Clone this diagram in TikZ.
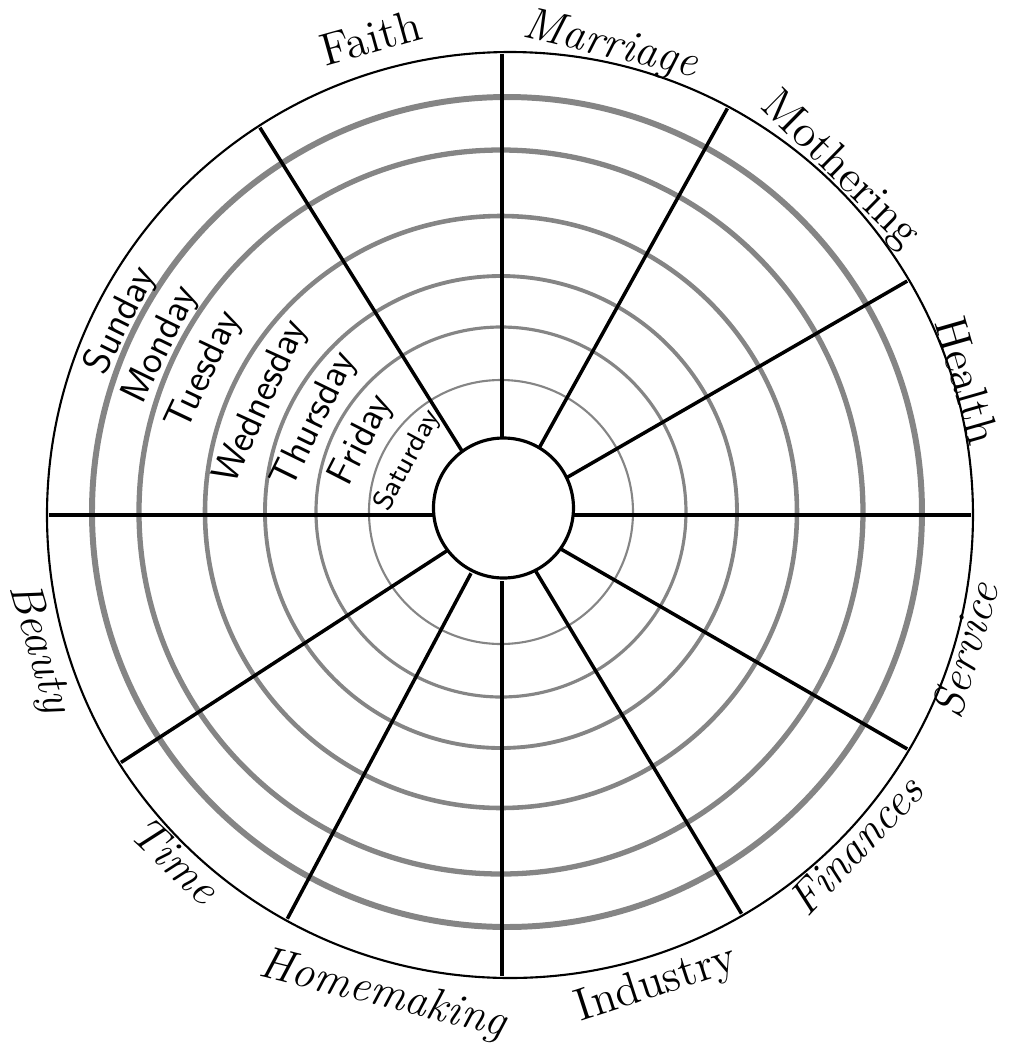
\documentclass[tikz,border=0pt]{standalone}
\usepackage{fontspec}
\usepackage{tikz}
\usetikzlibrary{calc}

\tikzset{
  ring/.style={draw=black!48, line width=#1},
  spoke/.style={line width=1pt},
  sector/.style={font=\fontsize{13}{15}\selectfont, inner sep=0pt},
  sectorit/.style={font=\fontsize{13}{15}\selectfont\itshape, inner sep=0pt},
  dayname/.style={font=\sffamily\fontsize{11}{13}\selectfont, inner sep=0pt},
}

\begin{document}
\begin{tikzpicture}[x=0.01cm, y=0.01cm, line join=round]
  \useasboundingbox (-503,-538) rectangle (507,512);
  \coordinate (O) at (0,0);
  \coordinate (SC) at (-1,-3);
  \coordinate (RC) at (-2,0);
  \coordinate (R6) at (4,0);
  \coordinate (OC) at (7,-3);
  \coordinate (IC) at (0.5,4);
  % gray day rings
  \foreach \r/\w in {132/0.6pt,185/0.9pt,236/1.1pt,296/1.3pt,362/1.5pt}
    \draw[ring=\w] (RC) circle (\r);
  \draw[ring=1.7pt] (R6) circle (415);
  % spokes, all from one hub
  \foreach \a in {122,90,61,30,0,-30,-59,-90,-118,-147,180}{
    \pgfmathsetmacro{\rend}{461+8*cos(\a)}
    \draw[spoke] ($(SC)+(\a:66)$) -- ($(SC)+(\a:\rend)$);
  }
  \draw[line width=0.6pt] (OC) circle (463);
  \draw[line width=0.9pt, fill=white] (IC) circle (70);
  % sector labels
  \node[sector, rotate=15.6] (faith) at (105.6:493) {Faith};
  \node[sectorit, rotate=-13] (marriage) at (77:478) {Marriage};
  \node[sector, rotate=-44.6] (mothering) at (45.4:480) {Mothering};
  \node[sector, rotate=-74] (health) at (15.8:483) {Health};
  \node[sectorit, rotate=73.4] (service) at (-16.6:482) {Service};
  \node[sectorit, rotate=46.6] (finances) at (-43.4:485) {Finances};
  \node[sector, rotate=18] (industry) at (-72:497) {Industry};
  \node[sectorit, rotate=-14] (homemaking) at (-104:498) {Homemaking};
  \node[sectorit, rotate=-43.3] (time) at (-133.3:478) {Time};
  \node[sectorit, rotate=-73.7] (beauty) at (-163.7:484) {Beauty};
  % day labels
  \node[dayname, rotate=63.4] (sun) at (153.4:427) {Sunday};
  \node[dayname, rotate=64] (mon) at (154:380) {Monday};
  \node[dayname, rotate=64.7] (tue) at (154.7:330) {Tuesday};
  \node[dayname, rotate=65.5] (wed) at (155.5:265) {Wednesday};
  \node[dayname, rotate=64] (thu) at (154:209) {Thursday};
  \node[dayname, rotate=63] (fri) at (153:158) {Friday};
  \node[dayname, rotate=61.8, font=\sffamily\fontsize{8}{10}\selectfont] (sat) at (151.8:108) {Saturday};
\end{tikzpicture}
\end{document}
